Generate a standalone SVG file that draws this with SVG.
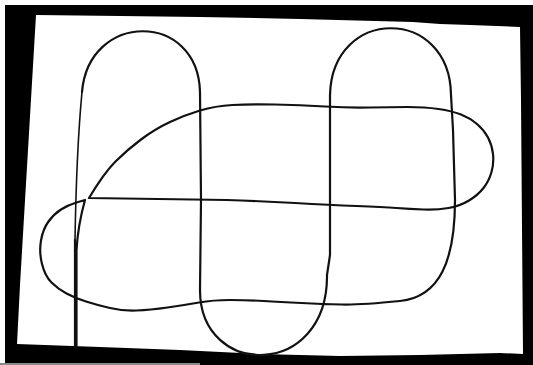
<svg xmlns="http://www.w3.org/2000/svg" width="533" height="365" viewBox="0 0 533 365">
<style>
.rope{fill:none;stroke:#111;stroke-width:2.2;stroke-linejoin:round;stroke-linecap:round}
.thin{stroke-width:1.6}
</style>
<rect x="0" y="0" width="533" height="365" fill="#ffffff"/>
<rect x="5" y="5" width="528" height="360" fill="#000000"/>
<rect x="0" y="363" width="200" height="2" fill="#8a8a8a"/>
<polygon id="paper" fill="#ffffff" points="36,15 120,16 200,17 300,19 413,22 440,24 470,25 520,27 521,100 523,354 500,353 420,355 340,356 260,354 180,350 100,347 17,344 20,285"/>
<g id="rope">
<path class="rope thin" d="M75,240 Q76.5,150 82,92"/>
<path class="rope" d="M75,347 L75,240"/>
<path class="rope" d="M82,92 C89,11 198,11 200,92 L201,200 L200,290 C200,379 328,379 327,275 L330,255 L330,95 C332,6 450,6 451,95 L453,130 L455,200 C455,260 440,297 400,301 Q360,305 341.5,304.5 Q323,304 301.5,303 Q280,302 263.5,301 Q247,300 230,300 Q213,300 199,302.5 Q185,305 167.5,307.5 Q150,310 136.5,310.5 Q123,311 110,308 Q97,305 86,301.5 Q75,298 66.5,293.5 Q58,289 51.5,282.5 Q45,276 42,264 Q39,252 41,240.5 Q43,229 48.5,221.5 Q54,214 61,209.5 Q68,205 76.5,202.5 L85,200 Q78,225 76.5,250 L76.5,347"/>
<path class="rope" d="M89,198 L226.5,200 Q260,201 295,203 Q330,205 356.5,206 Q383,207 396.5,208 Q410,209 423.5,209.5 Q437,210 448.5,208 Q460,206 469,200.5 Q478,195 483.5,188 Q489,181 491.5,172 Q494,163 493,154 Q492,145 488,137.5 Q484,130 477,124 Q470,118 461,114.5 Q452,111 438.5,109 Q425,107 407.5,107 Q390,107 370,107.5 Q350,108 325,106.5 Q300,105 275,104.5 Q250,104 232.5,105 Q215,106 200,110.5 Q185,115 170,122 Q155,129 141,139.5 Q127,150 115.5,161.5 Q104,173 89,198 Z"/>
</g>
</svg>
